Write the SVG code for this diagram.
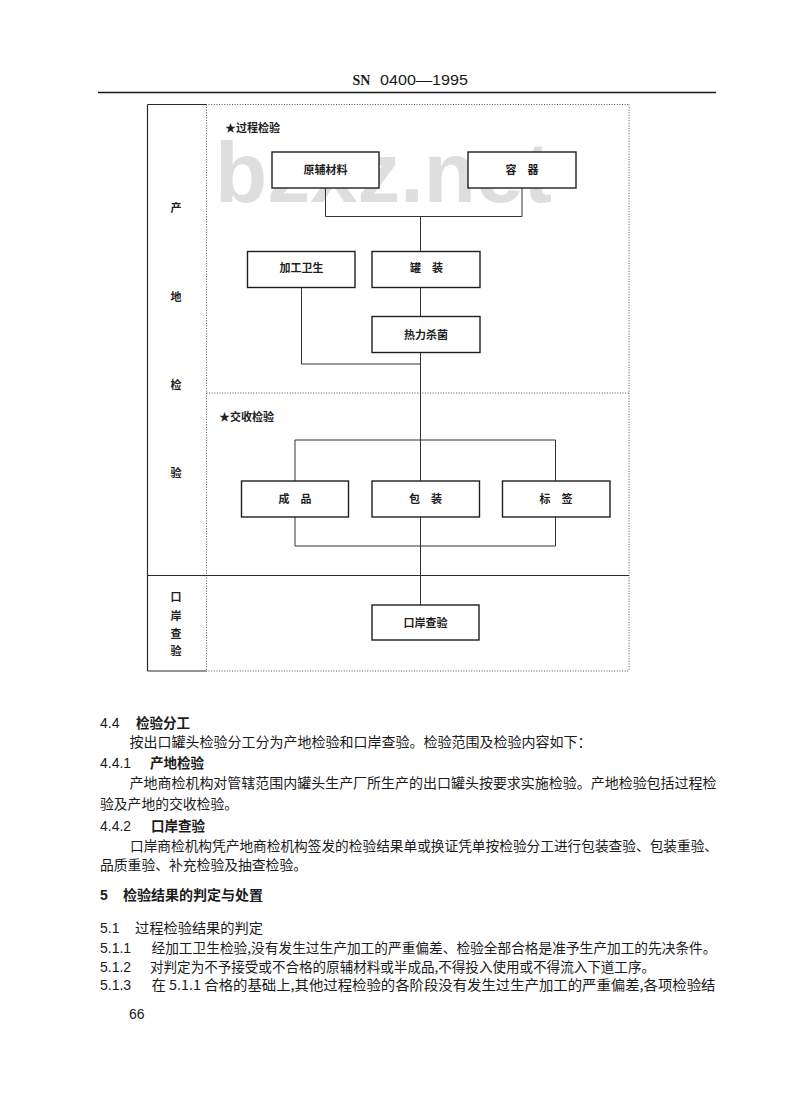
<svg xmlns="http://www.w3.org/2000/svg" width="800" height="1102" viewBox="0 0 800 1102">
<style>
.bg{fill:#ffffff}
.wm{font-family:"Liberation Sans",Arial,sans-serif;font-weight:bold;font-size:86px;fill:#dedede}
.box{fill:#ffffff;stroke:#1e1e1e;stroke-width:1.4}
.lbl{font-family:"Noto Sans CJK SC",sans-serif;font-weight:bold;font-size:11px;fill:#1e1e1e;text-anchor:middle}
.sec{font-family:"Noto Sans CJK SC",sans-serif;font-weight:bold;font-size:11px;fill:#1e1e1e}
.con{fill:none;stroke:#333333;stroke-width:1}
.dot{fill:none;stroke:#555555;stroke-width:1;stroke-dasharray:1 1.6}
.sol{fill:none;stroke:#2a2a2a;stroke-width:1.2}
.body{font-family:"Noto Sans CJK SC",sans-serif;font-size:13.5px;fill:#1a1a1a}
.head{font-family:"Noto Sans CJK SC",sans-serif;font-size:13.5px;font-weight:bold;fill:#1a1a1a}
.num{font-family:"Liberation Sans",Arial,sans-serif;font-size:14px;fill:#1a1a1a}
</style>
<rect class="bg" x="0" y="0" width="800" height="1102"/>

<g id="header">
<text x="352.5" y="85" font-family="Liberation Serif,serif" font-weight="bold" font-size="14" fill="#1a1a1a">SN</text>
<text x="380" y="85" class="num" textLength="88" lengthAdjust="spacingAndGlyphs">0400—1995</text>
<line x1="98" y1="92.5" x2="716" y2="92.5" stroke="#1a1a1a" stroke-width="1.6"/>
</g>

<g id="watermark">
<text class="wm" x="215" y="202" textLength="337" lengthAdjust="spacingAndGlyphs">bzxz.net</text>
</g>

<g id="frame">
<line class="sol" x1="147.5" y1="104.5" x2="147.5" y2="671"/>
<line class="sol" x1="147.5" y1="104.5" x2="206" y2="104.5"/>
<line class="dot" x1="206" y1="104.5" x2="629" y2="104.5"/>
<line class="sol" x1="147.5" y1="671" x2="206" y2="671"/>
<line class="dot" x1="206" y1="671" x2="629" y2="671"/>
<line class="dot" x1="629" y1="104.5" x2="629" y2="671"/>
<line class="dot" x1="206.5" y1="104.5" x2="206.5" y2="671"/>
<line class="dot" x1="206.5" y1="393" x2="629" y2="393"/>
<line class="sol" x1="147.5" y1="575.5" x2="629" y2="575.5"/>
</g>

<g id="side-labels">
<text class="lbl" x="176" y="212">产</text>
<text class="lbl" x="176" y="301">地</text>
<text class="lbl" x="176" y="389">检</text>
<text class="lbl" x="176" y="477">验</text>
<text class="lbl" x="176" y="601">口</text>
<text class="lbl" x="176" y="620">岸</text>
<text class="lbl" x="176" y="638">查</text>
<text class="lbl" x="176" y="655">验</text>
</g>

<g id="section-process">
<text class="sec" x="225" y="132">★过程检验</text>
</g>
<g id="section-acceptance">
<text class="sec" x="219" y="421">★交收检验</text>
</g>

<g id="connectors">
<path class="con" d="M325.5,188 V216.5 H522 V188"/>
<path class="con" d="M420.5,216.5 V251.5"/>
<path class="con" d="M420.5,287.5 V316.5"/>
<path class="con" d="M301.5,287.5 V364 H420.5"/>
<path class="con" d="M420.5,352.5 V481"/>
<path class="con" d="M295,481 V440 H555.5 V481"/>
<path class="con" d="M295,517 V546 H555.5 V517"/>
<path class="con" d="M420.5,517 V605"/>
</g>

<g id="node-raw">
<rect class="box" x="272" y="152" width="107" height="36"/>
<text class="lbl" x="325.5" y="174">原辅材料</text>
</g>
<g id="node-container">
<rect class="box" x="468" y="152" width="108" height="36"/>
<text class="lbl" x="522" y="174">容　器</text>
</g>
<g id="node-hygiene">
<rect class="box" x="247.5" y="251.5" width="107.5" height="36"/>
<text class="lbl" x="301.5" y="272">加工卫生</text>
</g>
<g id="node-canning">
<rect class="box" x="372" y="251.5" width="108" height="36"/>
<text class="lbl" x="426.5" y="272">罐　装</text>
</g>
<g id="node-sterilize">
<rect class="box" x="372" y="316.5" width="108" height="36"/>
<text class="lbl" x="426" y="338.5">热力杀菌</text>
</g>
<g id="node-product">
<rect class="box" x="241.5" y="481" width="107" height="36"/>
<text class="lbl" x="295" y="503">成　品</text>
</g>
<g id="node-package">
<rect class="box" x="372" y="481" width="107.5" height="36"/>
<text class="lbl" x="425.5" y="503">包　装</text>
</g>
<g id="node-label">
<rect class="box" x="502.5" y="481" width="107.5" height="36"/>
<text class="lbl" x="556" y="503">标　签</text>
</g>
<g id="node-port">
<rect class="box" x="372" y="605" width="107" height="35"/>
<text class="lbl" x="425.5" y="626.5">口岸查验</text>
</g>

<g id="body-text">
<text class="num" x="100" y="728">4.4</text>
<text class="head" x="136" y="728">检验分工</text>
<text class="body" x="129.5" y="747" textLength="462" lengthAdjust="spacingAndGlyphs">按出口罐头检验分工分为产地检验和口岸查验。检验范围及检验内容如下：</text>
<text class="num" x="100" y="768">4.4.1</text>
<text class="head" x="150" y="768">产地检验</text>
<text class="body" x="129.5" y="788" textLength="587" lengthAdjust="spacingAndGlyphs">产地商检机构对管辖范围内罐头生产厂所生产的出口罐头按要求实施检验。产地检验包括过程检</text>
<text class="body" x="100" y="809" textLength="138" lengthAdjust="spacingAndGlyphs">验及产地的交收检验。</text>
<text class="num" x="100" y="831">4.4.2</text>
<text class="head" x="151" y="831">口岸查验</text>
<text class="body" x="130" y="851" textLength="588" lengthAdjust="spacingAndGlyphs">口岸商检机构凭产地商检机构签发的检验结果单或换证凭单按检验分工进行包装查验、包装重验、</text>
<text class="body" x="100" y="870" textLength="207" lengthAdjust="spacingAndGlyphs">品质重验、补充检验及抽查检验。</text>
<text class="num" x="100" y="900" font-weight="bold">5</text>
<text class="head" x="123" y="900" textLength="140" lengthAdjust="spacingAndGlyphs">检验结果的判定与处置</text>
<text class="num" x="100" y="933">5.1</text>
<text class="body" x="135" y="933" textLength="128" lengthAdjust="spacingAndGlyphs">过程检验结果的判定</text>
<text class="num" x="100" y="953">5.1.1</text>
<text class="body" x="151.5" y="953" textLength="565" lengthAdjust="spacingAndGlyphs">经加工卫生检验,没有发生过生产加工的严重偏差、检验全部合格是准予生产加工的先决条件。</text>
<text class="num" x="100" y="972">5.1.2</text>
<text class="body" x="150" y="972" textLength="505" lengthAdjust="spacingAndGlyphs">对判定为不予接受或不合格的原辅材料或半成品,不得投入使用或不得流入下道工序。</text>
<text class="num" x="100" y="990">5.1.3</text>
<text class="body" x="151.5" y="990" textLength="564" lengthAdjust="spacingAndGlyphs">在 5.1.1 合格的基础上,其他过程检验的各阶段没有发生过生产加工的严重偏差,各项检验结</text>
<text class="num" x="129" y="1019" font-size="10">66</text>
</g>
</svg>
